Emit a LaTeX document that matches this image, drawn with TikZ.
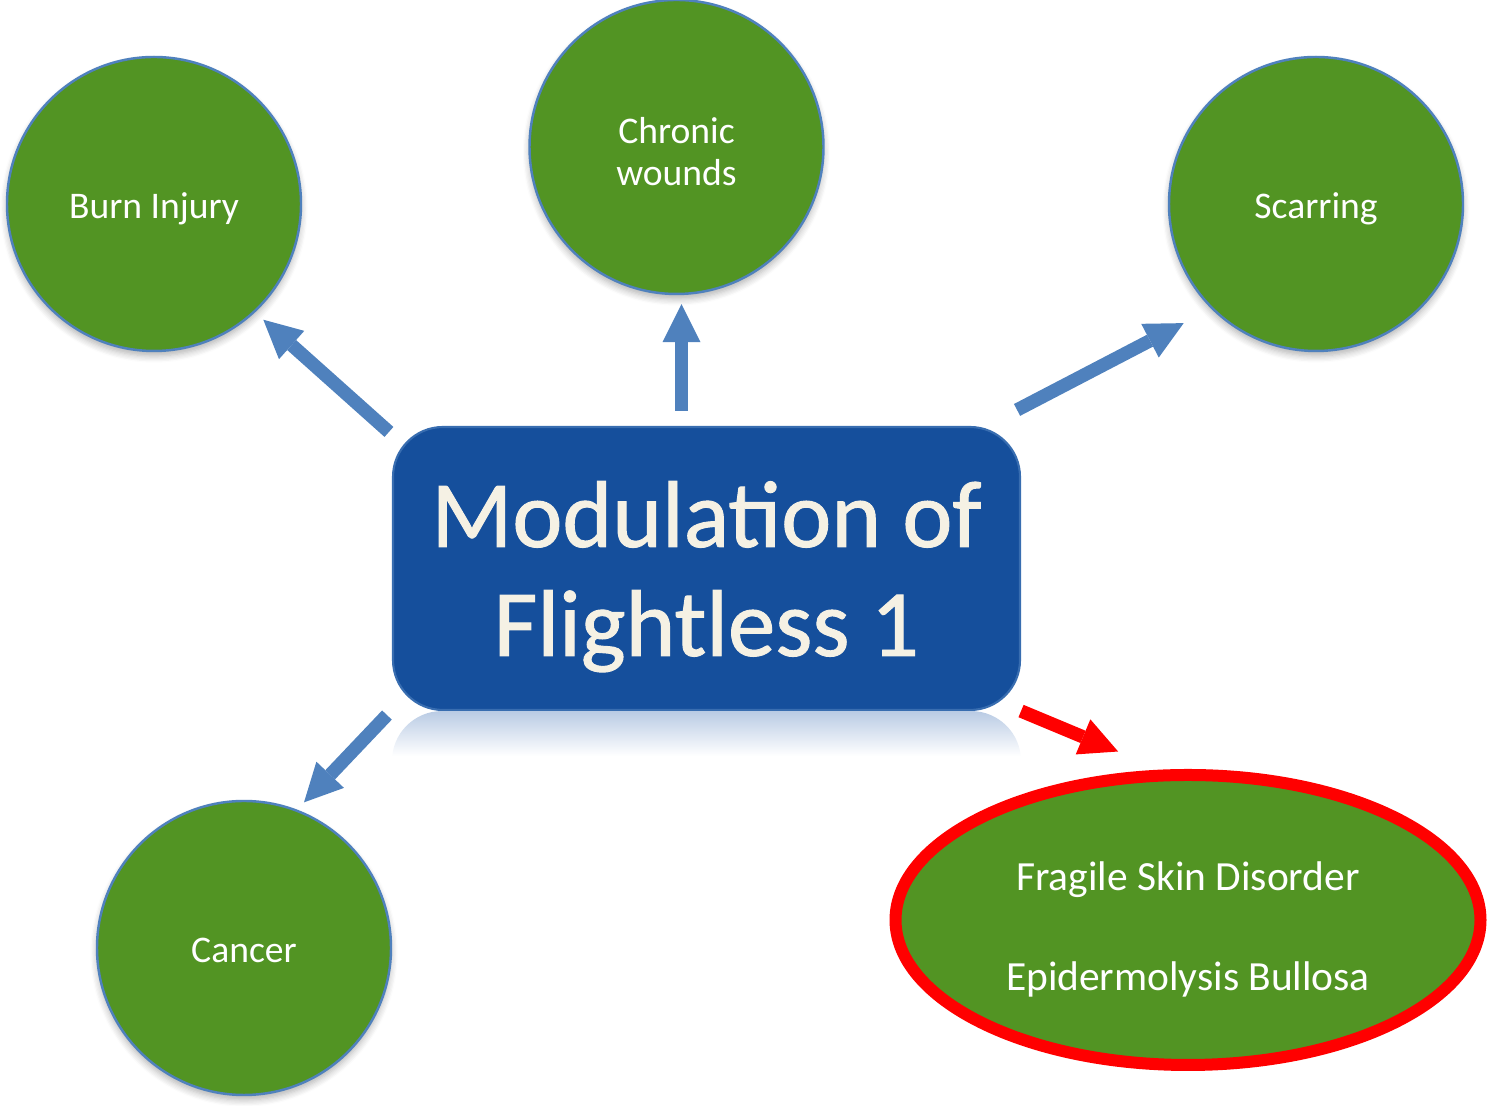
\documentclass[tikz,border=0pt]{standalone}
\usepackage{fontspec}
\setmainfont{Carlito}
\newfontfamily\titlefont[FakeBold=1]{Carlito}
\usetikzlibrary{arrows.meta,positioning,shapes.geometric,shadows.blur}
\definecolor{leafgreen}{HTML}{529423}
\definecolor{flowblue}{HTML}{4F81BD}
\definecolor{boxblue}{HTML}{154F9C}
\definecolor{creamtext}{HTML}{F5F1E4}
\definecolor{reflblue}{HTML}{B9CBE4}

\begin{document}
\begin{tikzpicture}
\tikzstyle{disease}=[circle, fill=leafgreen, draw=flowblue, line width=0.7pt, minimum size=2.94cm, text=white, align=center, font=\fontsize{10.7}{12}\selectfont, blur shadow={shadow xshift=0pt, shadow yshift=-0.05cm, shadow opacity=30, shadow blur steps=6}]
\tikzstyle{oneline}=[text height=8.4pt, text depth=0pt]
\tikzstyle{mainbox}=[rectangle, rounded corners=0.5cm, fill=boxblue, draw=flowblue!60!boxblue, line width=0.6pt, minimum width=6.27cm, minimum height=2.83cm, text=creamtext, align=center, font=\titlefont\fontsize{27}{31}\selectfont, text depth=0pt]
\tikzstyle{flow}=[draw=flowblue, line width=3.8pt, -{Triangle[length=0.38cm, width=0.38cm, line width=0pt]}]
\useasboundingbox (0,0) rectangle (14.89,11.06);

\node[mainbox] (box) at (7.065,5.375) {Modulation of\\Flightless 1};
\node[disease, oneline] (burn) at (1.54,9.02) {Burn Injury};
\node[disease] (chronic) at (6.765,9.59) {\rule{0pt}{10pt}Chronic\\wounds};
\node[disease, oneline] (scar) at (13.16,9.02) {Scarring};
\node[disease, oneline] (cancer) at (2.44,1.58) {Cancer};
\node[ellipse, fill=leafgreen, draw=red, line width=0.12cm, minimum width=5.85cm, minimum height=2.9cm, text=white, align=center, font=\fontsize{11.8}{14}\selectfont] (ebs) at (11.88,1.86) {\rule{0pt}{13.4pt}Fragile Skin Disorder\\[14.4pt]Epidermolysis Bullosa};

% reflection under the box
\begin{scope}
\clip[rounded corners=0.5cm] (box.south west) rectangle ([yshift=-2.83cm]box.south east);
\shade[top color=reflblue, bottom color=white] (box.south west) rectangle ([yshift=-0.45cm]box.south east);
\end{scope}

\draw[flow, shorten >=0.11cm] ([shift={(-0.03,-0.06)}]box.north west) -- (burn.-47);
\draw[flow, shorten <=0.15cm, shorten >=0.09cm] ([xshift=0.05cm]chronic.south |- box.north) -- ([xshift=0.05cm]chronic.south);
\draw[flow, shorten >=0.31cm] ([shift={(-0.04,0.16)}]box.north east) -- (scar.225);
\draw[flow, shorten >=0.10cm] ([shift={(-0.05,-0.04)}]box.south west) -- (cancer.69);
\draw[flow, draw=red, shorten >=0.47cm] (box.south east) -- (ebs.100);
\end{tikzpicture}
\end{document}
